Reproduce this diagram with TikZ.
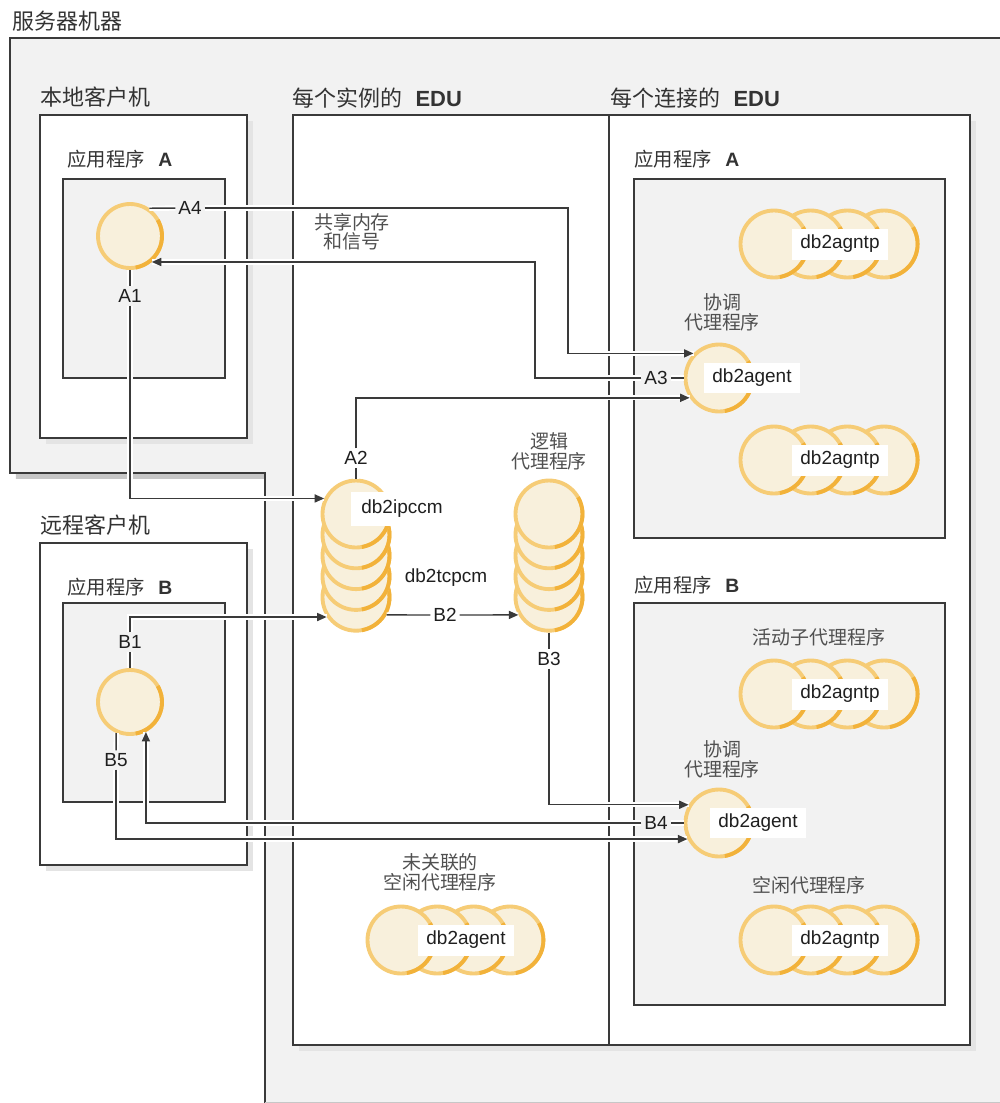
\documentclass[tikz,border=0pt]{standalone}
\usepackage{fontspec}
\setmainfont{Liberation Sans}
\newfontfamily\cjk{Noto Sans CJK SC}
\usetikzlibrary{arrows.meta, positioning, fit, shadows}

\definecolor{regiongray}{HTML}{F2F2F2}
\definecolor{shadowgray}{HTML}{E4E4E4}
\definecolor{edgegray}{HTML}{3A3A3A}
\definecolor{ringorange}{HTML}{F6CC76}
\definecolor{ringdark}{HTML}{F2B23A}
\definecolor{cream}{HTML}{F8F0DC}
\definecolor{textgray}{HTML}{505050}

\begin{document}
\begin{tikzpicture}[
  x=0.02cm, y=-0.02cm,
  every node/.style={font=\fontsize{10.8}{11.5}\selectfont, text=black!88},
  lift/.style={general shadow={fill=#1, shadow xshift=3.4pt, shadow yshift=-3.4pt}},
  box/.style={draw=edgegray, line width=0.9pt, fill=white, inner sep=0pt, lift=shadowgray},
  appbox/.style={draw=edgegray, line width=0.9pt, fill=regiongray, inner sep=0pt},
  title/.style={font=\fontsize{12.5}{14}\selectfont, text=black!80, inner sep=0pt},
  apptitle/.style={font=\fontsize{11}{13}\selectfont, text=black!80, inner sep=0pt},
  edu/.style={circle, draw=ringorange, fill=cream, line width=2.2pt, minimum size=1.34cm, inner sep=0pt,
    postaction={draw=ringdark, dash pattern=on 0.351cm off 2.923cm on 0.936cm}},
  app/.style={circle, draw=ringorange, fill=cream, line width=2.2pt, minimum size=1.28cm, inner sep=0pt,
    postaction={draw=ringdark, dash pattern=on 0.335cm off 2.793cm on 0.894cm}},
  tagbox/.style={fill=white, inner xsep=5pt, minimum height=0.62cm},
  note/.style={text=textgray, align=center, inner sep=0pt, font=\cjk\fontsize{10.8}{11.5}\selectfont},
  flowlbl/.style={inner sep=1.5pt},
  link/.style={draw=edgegray, line width=0.8pt, preaction={draw=white, line width=3pt, arrows={-}}},
  arrow/.style={link, -{Triangle[length=5.4pt, width=4.6pt]}}
]
\path[use as bounding box, clip] (0,0) rectangle (1000,1103);

% server machine
\draw[draw=edgegray, line width=0.9pt, fill=regiongray, lift=black!22]
  (10,38) -- (1020,38) -- (1020,1130) -- (265,1130) -- (265,473) -- (10,473) -- cycle;
\draw[black!22] (265,1102) -- (1000,1102);
\node[title, anchor=west] (tServer) at (12,21) {\cjk 服务器机器};

% clients
\node[box, fit={(40,115) (247,438)}] (local) {};
\node[title, above right=0.12cm and 0.02cm of local.north west] (tLocal) {\cjk 本地客户机};
\node[appbox, fit={(63,179) (225,378)}] (appAbox) {};
\node[apptitle, above right=0.19cm and 0.1cm of appAbox.north west] (tAppA) {{\cjk 应用程序}\hspace{0.7em}\textbf{A}};

\node[box, fit={(40,543) (247,865)}] (remote) {};
\node[title, above right=0.12cm and 0.02cm of remote.north west] (tRemote) {\cjk 远程客户机};
\node[appbox, fit={(63,603) (225,802)}] (appBbox) {};
\node[apptitle, above right=0.11cm and 0.1cm of appBbox.north west] (tAppB) {{\cjk 应用程序}\hspace{0.7em}\textbf{B}};

% EDU areas
\node[box, fit={(293,115) (609,1045)}] (perInst) {};
\node[title, above right=0.12cm and 0cm of perInst.north west] (tInst) {{\cjk 每个实例的}\hspace{0.6em}\textbf{EDU}};
\node[box, fit={(609,115) (970,1045)}] (perConn) {};
\node[title, above right=0.12cm and 0.04cm of perConn.north west] (tConn) {{\cjk 每个连接的}\hspace{0.6em}\textbf{EDU}};
\node[appbox, fit={(634,179) (945,538)}] (connA) {};
\node[apptitle, above right=0.19cm and 0.02cm of connA.north west] (tConnA) {{\cjk 应用程序}\hspace{0.7em}\textbf{A}};
\node[appbox, fit={(634,603) (945,1005)}] (connB) {};
\node[apptitle, above right=0.16cm and 0.02cm of connB.north west] (tConnB) {{\cjk 应用程序}\hspace{0.7em}\textbf{B}};

% applications
\node[app] (appA) at (130,236) {};
\node[app] (appB) at (130,702) {};

% listeners and logical agents
\foreach \k in {4,3,2,1,0} {
  \node[edu] (ipc\k) at (356,{514+20.8*\k}) {};
  \node[edu] (lgc\k) at (549,{514+20.8*\k}) {};
}
\node[tagbox, minimum height=0.68cm, inner xsep=6pt] (tagIpc) at (402,509) {db2ipccm};
\node (tcp) at (446,578) {db2tcpcm};
\node[note] (tLogic) at (549,451) {逻辑\\代理程序};

% agent pools
\foreach \k in {3,2,1,0} {
  \node[edu] (actA\k) at ({774+36.7*\k},244) {};
  \node[edu] (poolA\k) at ({774+36.7*\k},460) {};
  \node[edu] (actB\k) at ({774+36.7*\k},694) {};
  \node[edu] (idleB\k) at ({774+36.7*\k},940) {};
  \node[edu] (free\k) at ({401+36.3*\k},940) {};
}
\node[tagbox] (tagActA) at (840,244) {db2agntp};
\node[tagbox] (tagPoolA) at (840,460) {db2agntp};
\node[tagbox] (tagActB) at (840,694) {db2agntp};
\node[tagbox] (tagIdleB) at (840,940) {db2agntp};
\node[tagbox] (tagFree) at (466,940) {db2agent};

% coordinator agents
\node[edu] (agentA) at (719,378) {};
\node[tagbox, minimum height=0.48cm] (tagAgentA) at (752,378) {db2agent};
\node[edu] (agentB) at (719,823) {};
\node[tagbox, minimum height=0.44cm] (tagAgentB) at (758,823) {db2agent};

\node[note, font=\cjk\fontsize{10.8}{9}\selectfont] (tShm) at (352,232) {共享内存\\和信号};
\node[note] (tCoordA) at (722,312) {协调\\代理程序};
\node[note] (tCoordB) at (722,759) {协调\\代理程序};
\node[note] (tActive) at (819,637) {活动子代理程序};
\node[note] (tIdle) at (809,885) {空闲代理程序};
\node[note] (tFree) at (440,872) {未关联的\\空闲代理程序};

% flow labels
\node[flowlbl] (A1) at (130,296) {A1};
\node[flowlbl] (A2) at (356,458) {A2};
\node[flowlbl] (A3) at (656,378) {A3};
\node[flowlbl] (A4) at (190,208) {A4};
\node[flowlbl] (B1) at (130,642) {B1};
\node[flowlbl] (B2) at (445,615) {B2};
\node[flowlbl] (B3) at (549,659) {B3};
\node[flowlbl] (B4) at (656,823) {B4};
\node[flowlbl] (B5) at (116,760) {B5};

% connections for A
\draw[link] (appA) -- (A1);
\draw[arrow] (A1) |- (ipc0.154);
\draw[link] (ipc0) -- (A2);
\draw[arrow] (A2) |- (agentA.214);
\draw[link] (agentA) -- (A3);
\draw[arrow] (A3) -- (535,378) |- (appA.-50);
\draw[link] (appA.55) -- (A4);
\draw[arrow] (A4) -- (568,208) |- (agentA.136);

% connections for B
\draw[link] (appB) -- (B1);
\draw[arrow] (B1) |- (ipc4.-146);
\draw[link] (ipc4.-30) -- (B2);
\draw[arrow] (B2) -- (lgc4.210);
\draw[link] (lgc4) -- (B3);
\draw[arrow] (B3) |- (agentB.149);
\draw[link] (agentB) -- (B4);
\draw[arrow] (B4) -| (appB.-62);
\draw[link] (appB.-114) -- (B5);
\draw[arrow] (B5) |- (agentB.207);

\end{tikzpicture}
\end{document}
